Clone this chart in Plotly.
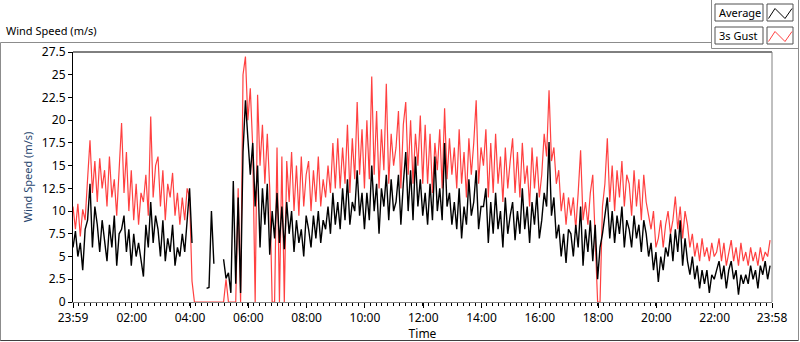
import pandas as pd
import plotly.graph_objects as go

# ---------------- data (5-minute samples from 23:59) ----------------
start_time = "2024-01-01 23:59"
end_time = "2024-01-02 23:58"
n_points = 288

gust = [
    10.5, 8.0, 10.8, 7.2, 10.2, 9.0,
    13.5, 17.8, 12.0, 15.5, 11.0, 15.8, 12.5,
    14.5, 10.5, 16.0, 11.5, 13.5, 9.5, 14.0,
    19.7,
    12.0, 16.5, 10.0, 14.5, 9.0, 13.0, 8.5, 12.0,
    11.0, 14.0, 9.5, 20.4, 11.5, 15.0,
    16.0, 10.5, 14.5, 9.0, 13.0, 11.5, 14.2, 9.5,
    12.0, 8.5, 11.5, 9.0, 12.5, 11.5,
    2.3, 0, 0, 0, 0, 0, 0, 0, 0, 0, 0, 0, 0, 0,
    2.5, 0, 0, 0, 0,
    12.5, 0, 25.0, 27.0, 20.0,
    23.5, 17.0, 0, 22.8, 15.0, 19.5, 13.0, 18.5, 12.5, 0, 0, 17.0, 0, 16.0, 0, 15.5,
    11.0, 16.5, 10.0, 15.0, 9.5, 16.0, 10.5, 14.0,
    15.5, 10.0, 14.5, 11.0, 16.0, 10.5, 13.5, 11.5, 15.0, 12.0, 17.5, 12.5,
    18.0, 12.5, 17.0, 13.0, 19.5, 12.0, 18.0, 13.5, 22.0, 14.0, 19.0, 12.5,
    20.0, 13.5, 24.8, 14.0, 21.0, 12.5, 19.0, 14.5, 24.0, 13.0, 18.5, 15.0,
    17.0, 21.0, 12.5, 19.5, 22.0, 14.0, 20.0, 13.0, 18.5, 15.0, 20.5, 13.0,
    19.5, 13.0, 18.5, 12.0, 17.5, 14.5, 19.0, 12.5, 21.3, 13.5, 18.0, 14.0,
    17.0, 12.5, 19.0, 13.0, 16.5, 11.5, 18.0, 14.0, 17.5, 22.2, 13.0, 17.0,
    15.0, 19.0, 11.5, 17.5, 12.0, 18.5, 13.0, 16.0, 11.0, 17.0, 12.5, 15.5,
    18.0, 12.0, 16.5, 11.5, 17.5, 13.0, 15.0, 10.5, 17.0, 12.5, 16.0, 11.5,
    14.0, 18.5, 16.0, 23.3, 15.5, 17.0, 13.0, 14.5, 10.0, 12.0, 8.5, 11.5,
    9.5, 11.5, 8.0, 12.0, 16.7, 9.0, 11.0, 8.5, 12.0, 14.0, 7.0, 0.0,
    0.0, 10.5, 13.0, 18.0, 11.0, 15.0, 10.0, 14.5, 11.5, 15.5, 10.5, 14.0,
    13.0, 9.5, 14.5, 10.5, 13.5, 9.0, 14.0, 11.0, 9.5, 8.0, 10.0, 6.0,
    7.0, 9.0, 6.0, 8.5, 10.0, 7.5, 9.0, 11.6, 8.0, 10.5, 7.0, 10.0,
    8.5, 6.0, 7.5, 5.0, 6.5, 4.5, 7.0, 5.0, 6.0, 4.5, 6.5, 5.0,
    5.5, 7.0, 4.5, 6.5, 4.0, 5.5, 6.8, 4.5, 6.0, 4.0, 6.5, 4.5,
    5.5, 4.0, 6.0, 4.5, 5.5, 4.0, 6.0, 4.5, 5.5, 5.0, 6.8,
]

average = [
    6.0, 7.8, 5.0, 6.5, 3.5, 8.0,
    9.0, 13.0, 6.0, 10.5, 8.5, 5.5, 9.0,
    7.0, 4.5, 8.5, 6.0, 9.5, 4.0, 7.5,
    8.0,
    9.5, 5.5, 8.0, 4.0, 7.5, 5.0, 6.5, 4.5,
    2.8, 8.5, 6.0, 11.0, 6.5, 9.5,
    8.0, 5.0, 9.0, 4.5, 7.0, 5.5, 8.5, 4.0,
    6.0, 5.0, 7.5, 5.5, 9.5, 12.5,
    6.5, None, None, None, None, None,
    1.5, 1.6,
    10.0, 4.2,
    None, None, None,
    4.7, 2.6, 3.2, 1.0,
    13.3, 2.0, 11.5, 1.0, 16.5, 22.2, 18.0,
    14.0, 17.5, 10.5, 15.0, 6.0, 12.5, 8.5, 13.0, 5.2, 10.0, 7.0, 12.0, 6.5, 10.5, 5.8, 11.0,
    7.5, 10.0, 5.5, 9.0, 6.5, 8.0, 5.0, 9.5,
    8.0, 6.0, 9.5, 7.0, 10.0, 6.5, 9.0, 8.0, 10.5, 7.5, 12.0, 8.5,
    11.0, 8.0, 12.5, 9.0, 13.5, 8.5, 11.0, 10.0, 14.5, 9.5, 12.0, 8.0,
    12.0, 9.0, 15.0, 10.0, 13.0, 7.5, 12.5, 10.5, 14.0, 9.0, 13.5, 10.0,
    11.0, 14.0, 8.5, 13.0, 16.5, 10.0, 14.5, 9.0, 16.0, 10.5, 13.5, 9.5,
    12.0, 8.5, 13.0, 9.0, 16.0, 10.0, 12.5, 9.0, 17.5, 10.5, 12.0, 8.5,
    11.0, 8.0, 12.5, 7.0, 10.5, 8.5, 13.5, 9.5, 11.0, 14.5, 8.0, 10.5,
    10.5, 12.5, 6.5, 11.0, 7.5, 12.0, 8.0, 10.0, 6.0, 11.5, 7.5, 9.5,
    11.0, 6.8, 10.0, 7.5, 12.5, 8.0, 10.5, 6.5, 11.0, 8.5, 12.0, 7.0,
    9.0, 12.0, 10.5, 17.6, 9.5, 11.5, 7.0, 8.5, 5.0, 7.5, 4.3, 8.0,
    7.5, 5.0, 8.5, 6.0, 10.5, 4.0, 8.0, 5.5, 9.0, 4.5, 8.5, 2.5,
    6.0, 7.5, 9.5, 11.5, 7.0, 10.0, 6.5, 9.5, 7.5, 10.5, 6.0, 9.0,
    8.0, 6.0, 9.5, 7.0, 8.5, 5.5, 9.0, 7.5, 5.0, 6.5, 3.5, 5.5,
    2.2, 5.0, 3.5, 6.0, 5.0, 7.5, 4.5, 8.0, 5.5, 9.0, 4.0, 7.0,
    4.5, 3.0, 5.0, 2.5, 4.0, 1.5, 3.5, 2.0, 3.5, 1.0, 3.0, 2.5,
    3.5, 4.5, 2.5, 4.0, 1.5, 3.5, 4.5, 2.5, 3.5, 0.8, 3.0, 2.0,
    3.0, 2.0, 4.0, 2.5, 3.5, 1.5, 4.0, 3.0, 4.5, 2.5, 4.0,
]

x_tick_values = ["2024-01-01 23:59", "2024-01-02 02:00", "2024-01-02 04:00", "2024-01-02 06:00",
                 "2024-01-02 08:00", "2024-01-02 10:00", "2024-01-02 12:00", "2024-01-02 14:00",
                 "2024-01-02 16:00", "2024-01-02 18:00", "2024-01-02 20:00", "2024-01-02 22:00",
                 "2024-01-02 23:58"]
x_tick_labels = ["23:59", "02:00", "04:00", "06:00", "08:00", "10:00", "12:00", "14:00",
                 "16:00", "18:00", "20:00", "22:00", "23:58"]
y_tick_values = [0, 2.5, 5, 7.5, 10, 12.5, 15, 17.5, 20, 22.5, 25, 27.5]
y_tick_labels = ["0", "2.5", "5", "7.5", "10", "12.5", "15", "17.5", "20", "22.5", "25", "27.5"]

times = pd.date_range(start=start_time, periods=n_points, freq="5min")

# ---------------- figure ----------------
W, H = 800, 342
L, R, T, B = 73, 772, 52, 302
FONT = "Noto Sans"


def PX(x):
    return (x - L) / (R - L)


def PY(y):
    return (B - y) / (B - T)


fig = go.Figure()
fig.add_trace(go.Scatter(x=times, y=gust, mode="lines", name="3s Gust",
                         line=dict(color="#ff4040", width=1.2), connectgaps=False))
fig.add_trace(go.Scatter(x=times, y=average, mode="lines", name="Average",
                         line=dict(color="#000000", width=1.4), connectgaps=False))

fig.update_layout(
    width=W, height=H,
    margin=dict(l=L, r=W - R, t=T, b=H - B, pad=0, autoexpand=False),
    paper_bgcolor="white", plot_bgcolor="white",
    showlegend=False,
    font=dict(family=FONT, size=11, color="#000000"),
)

fig.update_xaxes(
    type="date", automargin=False,
    range=[start_time, end_time],
    tickmode="array", tickvals=x_tick_values, ticktext=x_tick_labels,
    ticks="outside", ticklen=5, tickwidth=1, tickcolor="#000000",
    minor=dict(ticks="outside", ticklen=3, tickcolor="#000000", tickmode="linear",
               tick0=start_time, dtick=12 * 60 * 1000, showgrid=False),
    showgrid=False, zeroline=False,
    showline=True, linecolor="#808080", linewidth=1,
    tickfont=dict(family=FONT, size=12, color="#000000"),
    title=dict(text="Time", font=dict(family=FONT, size=12, color="#000000"), standoff=1),
)
fig.update_yaxes(
    automargin=False,
    range=[0, 27.5],
    tickmode="array", tickvals=y_tick_values, ticktext=y_tick_labels,
    ticks="outside", ticklen=4, tickwidth=1, tickcolor="#000000",
    showgrid=False, zeroline=False,
    showline=True, linecolor="#000000", linewidth=1,
    tickfont=dict(family=FONT, size=12, color="#000000"),
    title=dict(text="Wind Speed (m/s)", font=dict(family=FONT, size=11, color="#27466e"), standoff=6),
)

shapes = []
# plot frame: top black, right gray
shapes.append(dict(type="line", xref="paper", yref="paper", x0=0, x1=1, y0=1, y1=1,
                   line=dict(color="#000000", width=1)))
shapes.append(dict(type="line", xref="paper", yref="paper", x0=1, x1=1, y0=0, y1=1,
                   line=dict(color="#808080", width=1)))
# outer gray frame
gray = dict(color="#8c8c8c", width=1)
shapes.append(dict(type="line", xref="paper", yref="paper", x0=PX(0.5), x1=PX(711.5), y0=PY(42.5), y1=PY(42.5), line=gray))
shapes.append(dict(type="line", xref="paper", yref="paper", x0=PX(0.5), x1=PX(0.5), y0=PY(42.5), y1=PY(341), line=gray))
shapes.append(dict(type="line", xref="paper", yref="paper", x0=PX(0.5), x1=PX(799), y0=PY(340.5), y1=PY(340.5),
                   line=dict(color="#404040", width=1)))
shapes.append(dict(type="line", xref="paper", yref="paper", x0=PX(798.5), x1=PX(798.5), y0=PY(0), y1=PY(341), line=gray))
shapes.append(dict(type="line", xref="paper", yref="paper", x0=PX(711.5), x1=PX(711.5), y0=PY(0), y1=PY(48.5), line=gray))
shapes.append(dict(type="line", xref="paper", yref="paper", x0=PX(711.5), x1=PX(799), y0=PY(48.5), y1=PY(48.5), line=gray))

# legend boxes
box_line = dict(color="#505050", width=1)
for (y0, y1, col) in [(4, 21, "#000000"), (27, 44, "#ff4040")]:
    shapes.append(dict(type="rect", xref="paper", yref="paper", x0=PX(715), x1=PX(763),
                       y0=PY(y1), y1=PY(y0), line=box_line, fillcolor="white"))
    shapes.append(dict(type="rect", xref="paper", yref="paper", x0=PX(767), x1=PX(793),
                       y0=PY(y1), y1=PY(y0), line=box_line, fillcolor="white"))
    pts = [(768.5, y0 + 14.5), (775, y0 + 4.5), (785, y0 + 14.5), (792, y0 + 4.5)]
    path = "M " + " L ".join(f"{PX(a)},{PY(b)}" for a, b in pts)
    shapes.append(dict(type="path", xref="paper", yref="paper", path=path,
                       line=dict(color=col, width=1)))
fig.update_layout(shapes=shapes)

annotations = [
    dict(text="Wind Speed (m/s)", xref="paper", yref="paper", x=PX(4), y=PY(31),
         xanchor="left", yanchor="middle", showarrow=False,
         font=dict(family=FONT, size=11, color="#000000")),
    dict(text="Average", xref="paper", yref="paper", x=PX(717), y=PY(12.5),
         xanchor="left", yanchor="middle", showarrow=False,
         font=dict(family=FONT, size=11, color="#000000")),
    dict(text="3s Gust", xref="paper", yref="paper", x=PX(717), y=PY(35.5),
         xanchor="left", yanchor="middle", showarrow=False,
         font=dict(family=FONT, size=11, color="#000000")),
]
fig.update_layout(annotations=annotations)

fig.write_html("out.html",
               config={"displayModeBar": False},
               post_script="document.body.style.margin='0';document.body.style.padding='0';"
                           "document.body.style.overflow='hidden';")
